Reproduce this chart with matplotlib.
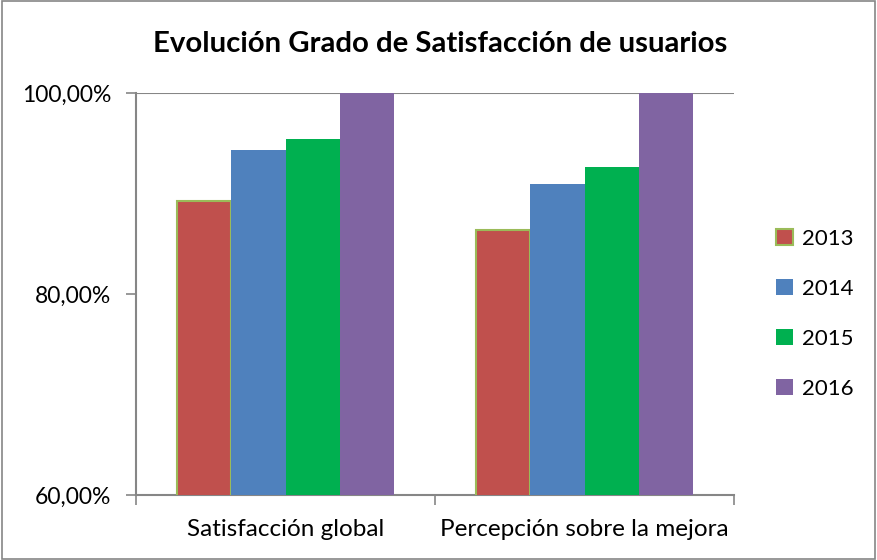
import matplotlib
matplotlib.use("Agg")
import matplotlib.pyplot as plt
from matplotlib.ticker import FuncFormatter
from matplotlib.patches import Rectangle, Patch
import numpy as np

categories = ["Satisfacción global", "Percepción sobre la mejora"]
years = ["2013", "2014", "2015", "2016"]
values = {
    "2013": [89.3, 86.4],
    "2014": [94.3, 90.9],
    "2015": [95.4, 92.6],
    "2016": [100.0, 100.0],
}
colors = ["#C0504D", "#4F81BD", "#00B050", "#8064A2"]
edges = ["#9BBB59", "none", "none", "none"]
yticks = [60, 80, 100]

plt.rcParams['font.family'] = ['Lato', 'DejaVu Sans']

fig = plt.figure(figsize=(8.77, 5.60), dpi=100)
fig.patches.append(Rectangle((0.002, 0.002), 0.996, 0.996, transform=fig.transFigure,
                             fill=False, edgecolor="#868686", linewidth=1.2))
ax = fig.add_axes([136/877, 65/560, 598/877, 402/560])

x = np.arange(len(categories))
bw = 0.1815
for i, y in enumerate(years):
    ax.bar(x + (i - 1.5) * bw, values[y], width=bw, bottom=0, color=colors[i],
           edgecolor=edges[i], linewidth=1.5 if edges[i] != "none" else 0, label=y, zorder=3)

ax.set_ylim(60, 100)
ax.set_xlim(-0.5, 1.5)
ax.set_yticks(yticks)
ax.yaxis.set_major_formatter(FuncFormatter(lambda v, p: f"{v:.2f}".replace(".", ",") + "%"))
ax.set_xticks([-0.5, 0.5, 1.5])
ax.set_xticklabels([])
ax.set_xticks(x, minor=True)
ax.set_xticklabels(categories, minor=True)
ax.tick_params(axis='x', which='minor', length=0, labelsize=17.5, pad=17)
ax.tick_params(axis='x', which='major', length=7, color="#868686", width=1.2)
ax.tick_params(axis='y', length=7, color="#868686", width=1.2, labelsize=16.5, pad=11)

for s in ["right", "top"]:
    ax.spines[s].set_visible(False)
for s in ["left", "bottom"]:
    ax.spines[s].set_color("#868686")
    ax.spines[s].set_linewidth(1.5)
ax.axhline(100, color="#868686", linewidth=1.5, zorder=2)

fig.text(440/877, 1 - 44/560, "Evolución Grado de Satisfacción de usuarios",
         ha="center", va="center", fontsize=21.2, fontweight="bold")

handles = [Patch(facecolor=colors[i], edgecolor=edges[i], linewidth=1.5 if edges[i] != "none" else 0,
                 label=years[i]) for i in range(4)]
fig.legend(handles=handles, loc="center left", bbox_to_anchor=(765/877, 1 - 314/560),
           frameon=False, fontsize=16, handlelength=0.75, handleheight=0.75,
           labelspacing=1.35, handletextpad=0.4, borderpad=0)

fig.savefig("out.png", dpi=100)
